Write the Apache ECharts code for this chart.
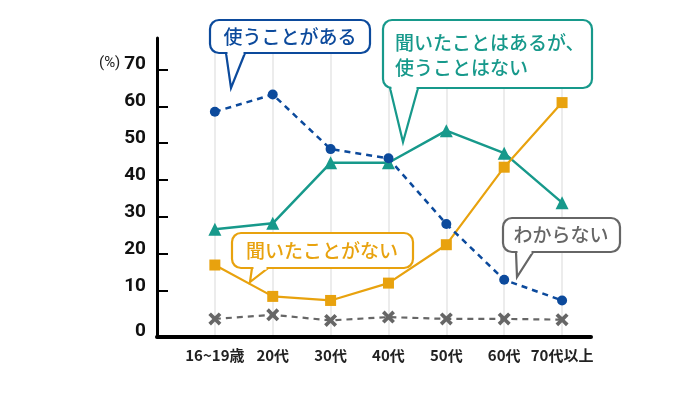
<!DOCTYPE html>
<html>
<head>
<meta charset="utf-8">
<script src="https://cdn.jsdelivr.net/npm/echarts@6/dist/echarts.min.js"></script>
<style>
  html, body { margin: 0; padding: 0; background: #fff; }
  #chart { width: 684px; height: 397px; }
</style>
</head>
<body>
<div id="chart"></div>
<script>
const chart = echarts.init(document.getElementById('chart'));

// data
const categories = ['16~19歳', '20代', '30代', '40代', '50代', '60代', '70代以上'];
const useIt = [58.5, 63.2, 48.4, 45.9, 28.1, 13.0, 7.4];        // 使うことがある
const heardNotUsed = [26.7, 28.3, 44.7, 44.7, 53.4, 47.3, 33.9]; // 聞いたことはあるが、使うことはない
const neverHeard = [17.0, 8.5, 7.4, 12.1, 22.5, 43.5, 61.0];     // 聞いたことがない
const unknown = [2.4, 3.5, 2.0, 2.9, 2.4, 2.4, 2.2];             // わからない
const yTicks = [0, 10, 20, 30, 40, 50, 60, 70];

const BLUE = '#0c4a9c';
const TEAL = '#17998b';
const ORANGE = '#e8a20e';
const GRAY = '#666666';
const JP = '"Noto Sans CJK JP", "Noto Sans", sans-serif';

const toPairs = arr => arr.map((v, i) => [i, v]);
const crossPath = 'path://M2,0 L5,3 L8,0 L10,2 L7,5 L10,8 L8,10 L5,7 L2,10 L0,8 L3,5 L0,2 Z';

// callout box: rect + tail + text
function callout(x, y, w, h, tail, color, lines, textX, textY, align) {
  const els = [
    {
      type: 'rect', z: 100, shape: { x: x, y: y, width: w, height: h, r: 9 },
      style: { fill: '#fff', stroke: color, lineWidth: 2.2 }
    },
    {
      type: 'polygon', z: 101,
      shape: { points: [[tail[0], y + h], [tail[2], tail[3]], [tail[1], y + h]] },
      style: { fill: '#fff', stroke: color, lineWidth: 2.2 }
    },
    {
      type: 'line', z: 102,
      shape: { x1: tail[0] + 1.5, y1: y + h, x2: tail[1] - 1.5, y2: y + h },
      style: { stroke: '#fff', lineWidth: 3.5 }
    }
  ];
  lines.forEach((t, i) => {
    els.push({
      type: 'text', z: 103, x: textX, y: textY + i * 25,
      style: {
        text: t, fill: color, font: '500 19px ' + JP,
        textAlign: align, textVerticalAlign: 'middle'
      }
    });
  });
  return els;
}

const option = {
  animation: false,
  grid: { left: 157, right: 93, top: 38, bottom: 60 },
  xAxis: {
    type: 'value',
    min: -1,
    max: 6.5,
    interval: 1,
    axisLine: { onZero: false, lineStyle: { color: '#000', width: 4 } },
    axisTick: { show: false },
    splitLine: {
      show: true, showMinLine: false, showMaxLine: false,
      lineStyle: { color: '#ececec', width: 2 }
    },
    axisLabel: {
      margin: 11,
      color: '#222',
      fontFamily: JP,
      fontWeight: 'bold',
      fontSize: 15,
      showMaxLabel: false,
      formatter: v => (Number.isInteger(v) && v >= 0 && v < categories.length) ? categories[v] : ''
    }
  },
  yAxis: {
    type: 'value',
    min: -2.5,
    max: 78.5,
    axisLine: { show: true, onZero: false, lineStyle: { color: '#000', width: 3 } },
    axisTick: {
      show: true, inside: true, length: 11,
      customValues: yTicks.slice(1),
      lineStyle: { color: '#000', width: 2 }
    },
    splitLine: { show: false },
    axisLabel: {
      customValues: yTicks,
      margin: 11,
      color: '#111',
      formatter: v => v === 0 ? '{z|0}' : '{n|' + v + '}',
      rich: {
        n: { fontFamily: 'Roboto, sans-serif', fontWeight: 'bold', fontSize: 19, padding: [0, 0, 10, 0] },
        z: { fontFamily: 'Roboto, sans-serif', fontWeight: 'bold', fontSize: 19, padding: [6, 0, 0, 0] }
      }
    }
  },
  graphic: [
    {
      type: 'text', x: 99, y: 63,
      style: { text: '(%)', fill: '#222', font: '15px Roboto, sans-serif', textVerticalAlign: 'middle' }
    }
  ].concat(
    callout(210, 20, 160, 33, [226, 245, 231, 88], BLUE, ['使うことがある'], 290, 37, 'center'),
    callout(383, 20, 209, 68, [390, 418, 403, 142], TEAL, ['聞いたことはあるが、', '使うことはない'], 395, 43, 'left'),
    callout(232, 233, 181, 35, [252, 268, 250, 282], ORANGE, ['聞いたことがない'], 322, 251, 'center'),
    callout(503, 218, 117, 34, [516, 533, 517, 277], GRAY, ['わからない'], 561, 235, 'center')
  ),
  series: [
    {
      name: 'わからない',
      type: 'line',
      data: toPairs(unknown),
      symbol: crossPath,
      symbolSize: 13,
      lineStyle: { color: GRAY, width: 2.2, type: [6, 5] },
      itemStyle: { color: GRAY }
    },
    {
      name: '聞いたことはあるが、使うことはない',
      type: 'line',
      data: toPairs(heardNotUsed),
      symbol: 'triangle',
      symbolSize: 13,
      lineStyle: { color: TEAL, width: 2.5 },
      itemStyle: { color: TEAL }
    },
    {
      name: '聞いたことがない',
      type: 'line',
      data: toPairs(neverHeard),
      symbol: 'rect',
      symbolSize: 11,
      lineStyle: { color: ORANGE, width: 2.2 },
      itemStyle: { color: ORANGE }
    },
    {
      name: '使うことがある',
      type: 'line',
      data: toPairs(useIt),
      symbol: 'circle',
      symbolSize: 10,
      lineStyle: { color: BLUE, width: 2.5, type: [6, 5] },
      itemStyle: { color: BLUE }
    }
  ]
};

chart.setOption(option);
</script>
</body>
</html>
